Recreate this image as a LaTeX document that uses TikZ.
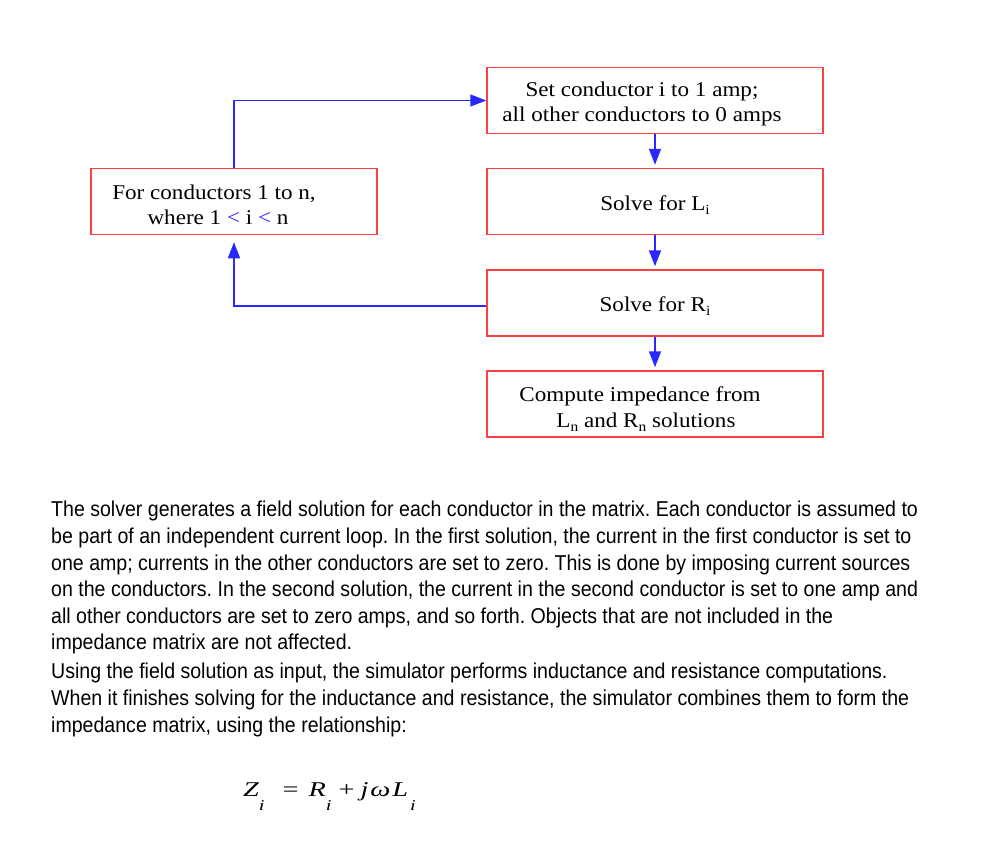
\documentclass[tikz,border=0pt]{standalone}
\usepackage{fontspec}
\setmainfont{Liberation Serif}
\newfontfamily\boxfont[FakeStretch=1.1]{Liberation Serif}
\newfontfamily\parafont[FakeStretch=0.91]{Liberation Sans}
\newfontfamily\eqfont[FakeStretch=1.35]{Liberation Serif}
\usetikzlibrary{arrows.meta}
\definecolor{boxred}{RGB}{255,64,64}
\definecolor{arrblue}{RGB}{40,40,255}
\newcommand\lowsub[1]{\raisebox{-4pt}{\fontsize{14}{14}\selectfont #1}}
\newcommand\eqsub[1]{\raisebox{-14pt}{\fontsize{15}{15}\selectfont\itshape #1}}
\newcommand\topstrut{\rule{0pt}{21.5pt}}
\frenchspacing
\begin{document}
\begin{tikzpicture}[x=1pt,y=-1pt,
  box/.style={draw=boxred, line width=1.5pt, minimum width=336pt, minimum height=66pt,
    inner sep=0pt, align=center, font=\boxfont\fontsize{21}{24.5}\selectfont},
  flow/.style={draw=arrblue, line width=1.5pt, -{Triangle[length=16pt,width=12pt]}},
  para/.style={anchor=base west, inner sep=0pt, font=\parafont\fontsize{21.5}{27}\selectfont, text=black}]
\useasboundingbox (0,0) rectangle (983,851);
\fill[white] (0,0) rectangle (983,851);

\node[box] (set) at (655,100.5) {\topstrut Set conductor i to 1 amp;\hspace*{26pt}\\all other conductors to 0 amps\hspace*{26pt}};
\node[box, minimum width=286pt] (loop) at (234,201.5) {\topstrut For conductors 1 to n,\hspace*{40pt}\\where 1 {\color{arrblue}<} i {\color{arrblue}<} n\hspace*{32pt}};
\node[box] (solveL) at (655,201.5) {\topstrut Solve for L\lowsub{i}};
\node[box] (solveR) at (655,303) {\topstrut Solve for R\lowsub{i}};
\node[box] (comp) at (655,404) {\rule{0pt}{25pt}Compute impedance from\hspace*{30pt}\\[1pt]L\lowsub{n} and R\lowsub{n} solutions\hspace*{18pt}};

\draw[flow] (loop.north) |- (set.west);
\draw[flow, shorten >=3pt] (set.south) -- (solveL.north);
\draw[flow, shorten >=3pt] (solveL.south) -- (solveR.north);
\draw[flow, shorten >=3pt] (solveR.south) -- (comp.north);
\draw[flow, shorten >=7pt] ([yshift=-3pt]solveR.west) -| (loop.south);

\node[para] (p1) at (51,516) {The solver generates a field solution for each conductor in the matrix. Each conductor is assumed to};
\node[para] (p2) at (51,543) {be part of an independent current loop. In the first solution, the current in the first conductor is set to};
\node[para] (p3) at (51,570) {one amp; currents in the other conductors are set to zero. This is done by imposing current sources};
\node[para] (p4) at (51,596) {on the conductors. In the second solution, the current in the second conductor is set to one amp and};
\node[para] (p5) at (51,623) {all other conductors are set to zero amps, and so forth. Objects that are not included in the};
\node[para] (p6) at (51,649) {impedance matrix are not affected.};
\node[para] (p7) at (51,678) {Using the field solution as input, the simulator performs inductance and resistance computations.};
\node[para] (p8) at (51,705) {When it finishes solving for the inductance and resistance, the simulator combines them to form the};
\node[para] (p9) at (51,732) {impedance matrix, using the relationship:};

\node[anchor=base west, inner sep=0pt, font=\eqfont\itshape\fontsize{21}{21}\selectfont] (eq) at (243,796)
  {Z\eqsub{i}\hspace{18pt}{\upshape=}\hspace{10pt}R\eqsub{i}\hspace{7pt}{\upshape+}\hspace{6pt}j\kern2pt ω\kern2pt L\kern2pt\eqsub{i}};
\end{tikzpicture}
\end{document}
